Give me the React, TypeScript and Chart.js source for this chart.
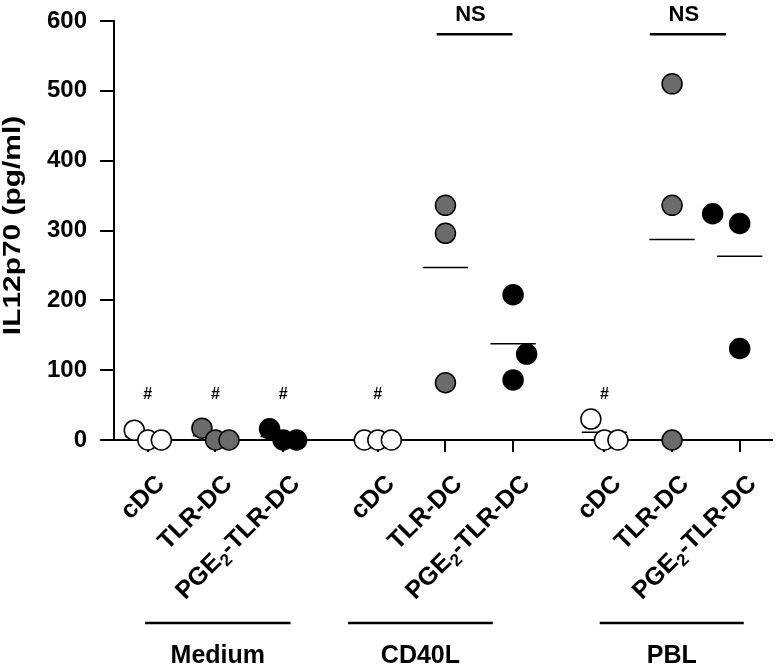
import React, { useEffect, useRef } from 'react';
import { Chart, registerables } from 'chart.js';

Chart.register(...registerables);

// ---- data ----
const groupNames = ['Medium', 'CD40L', 'PBL'];
const cellTypes = ['cDC', 'TLR-DC', 'PGE₂-TLR-DC'];
// x position of each category (group x cell type)
const catPositions = [0, 1, 2, 3.4, 4.4, 5.4, 6.75, 7.75, 8.75];

// three donors per category, one row per group
const cdcValues = [[14, 0, 0], [0, 0, 0], [30, 0, 0]];
const tlrValues = [[17, 0, 0], [336, 296, 82], [510, 336, 0]];
const pgeValues = [[16, 0, 0], [208, 123, 86], [324, 310, 131]];
// horizontal jitter of each dot (category units)
const cdcJitter = [[-0.2, 0, 0.2], [-0.2, 0, 0.2], [-0.2, 0, 0.2]];
const tlrJitter = [[-0.2, 0, 0.2], [0, 0, 0], [0, 0, 0]];
const pgeJitter = [[-0.2, 0, 0.2], [0, 0.2, 0], [-0.4, 0, 0]];
// mean bar per category
const meanValues = [5, 6, 5, 0, 247, 138, 11, 287, 263];

const yTicks = [0, 100, 200, 300, 400, 500, 600];
const yTitle = 'IL12p70 (pg/ml)';
const hashCategories = [0, 1, 2, 3, 6];
const hashValue = 65;
const nsBrackets = [[4.27, 5.39], [7.42, 8.55]];
const nsLineValue = 581;
const nsTextValue = 608;
const groupSpans = [[-0.04, 2.11], [2.96, 5.1], [6.68, 8.81]];

const FONT = '"Liberation Sans", Arial, Helvetica, sans-serif';
const GRAY = '#6b6b6b';

function buildPoints(values: number[][], jitter: number[][], typeIdx: number) {
  const pts: { x: number; y: number }[] = [];
  values.forEach((row, g) => {
    row.forEach((v, k) => {
      pts.push({ x: catPositions[g * 3 + typeIdx] + jitter[g][k], y: v });
    });
  });
  return pts;
}

function buildMeanLines() {
  const pts: { x: number; y: number | null }[] = [];
  meanValues.forEach((m, i) => {
    pts.push({ x: catPositions[i] - 0.335, y: m });
    pts.push({ x: catPositions[i] + 0.335, y: m });
    pts.push({ x: catPositions[i] + 0.4, y: null });
  });
  return pts;
}

function drawRotatedLabel(ctx: CanvasRenderingContext2D, text: string, ex: number, ey: number) {
  const main = `bold 25px ${FONT}`;
  const sub = `bold 17px ${FONT}`;
  const parts: { t: string; sub: boolean }[] = [];
  const idx = text.indexOf('₂');
  if (idx >= 0) {
    parts.push({ t: text.slice(0, idx), sub: false });
    parts.push({ t: '2', sub: true });
    parts.push({ t: text.slice(idx + 1), sub: false });
  } else {
    parts.push({ t: text, sub: false });
  }
  ctx.save();
  ctx.translate(ex, ey);
  ctx.rotate(-Math.PI / 4);
  ctx.textBaseline = 'middle';
  ctx.textAlign = 'left';
  let total = 0;
  const widths = parts.map((p) => {
    ctx.font = p.sub ? sub : main;
    const w = ctx.measureText(p.t).width;
    total += w;
    return w;
  });
  let x = -total;
  parts.forEach((p, i) => {
    ctx.font = p.sub ? sub : main;
    ctx.fillText(p.t, x, p.sub ? 8 : 0);
    x += widths[i];
  });
  ctx.restore();
}

const annotationPlugin = {
  id: 'annotations',
  afterDraw(chart: any) {
    const { ctx, chartArea } = chart;
    const x = chart.scales.x;
    const y = chart.scales.y;
    ctx.save();
    ctx.fillStyle = '#000';
    ctx.strokeStyle = '#000';

    // y axis title (glyphs drawn slightly elongated, as in the source figure)
    ctx.save();
    ctx.translate(14, (chartArea.top + chartArea.bottom) / 2 - 5);
    ctx.rotate(-Math.PI / 2);
    ctx.scale(1.3, 1);
    ctx.font = `bold 23px ${FONT}`;
    ctx.textAlign = 'center';
    ctx.textBaseline = 'middle';
    ctx.fillText(yTitle, 0, 0);
    ctx.restore();

    // # marks
    ctx.font = `bold 16px ${FONT}`;
    ctx.textAlign = 'center';
    ctx.textBaseline = 'middle';
    hashCategories.forEach((i) => {
      ctx.fillText('#', x.getPixelForValue(catPositions[i]), y.getPixelForValue(hashValue));
    });

    // NS brackets
    nsBrackets.forEach(([a, b]) => {
      const yl = y.getPixelForValue(nsLineValue);
      ctx.lineWidth = 2.5;
      ctx.beginPath();
      ctx.moveTo(x.getPixelForValue(a), yl);
      ctx.lineTo(x.getPixelForValue(b), yl);
      ctx.stroke();
      ctx.font = `bold 22px ${FONT}`;
      ctx.textAlign = 'center';
      ctx.textBaseline = 'middle';
      ctx.fillText('NS', x.getPixelForValue((a + b) / 2 - 0.06), y.getPixelForValue(nsTextValue));
    });

    // rotated category labels
    catPositions.forEach((p, i) => {
      drawRotatedLabel(ctx, cellTypes[i % 3], x.getPixelForValue(p) + 13, chartArea.bottom + 40);
    });

    // group underlines and names
    groupSpans.forEach(([a, b], g) => {
      const yl = chartArea.bottom + 183;
      ctx.lineWidth = 2.5;
      ctx.beginPath();
      ctx.moveTo(x.getPixelForValue(a), yl);
      ctx.lineTo(x.getPixelForValue(b), yl);
      ctx.stroke();
      ctx.font = `bold 25px ${FONT}`;
      ctx.textAlign = 'center';
      ctx.textBaseline = 'middle';
      ctx.fillText(groupNames[g], x.getPixelForValue((a + b) / 2), chartArea.bottom + 216);
    });
    ctx.restore();
  },
};

export default function App() {
  const ref = useRef<HTMLCanvasElement>(null);
  useEffect(() => {
    const canvas = ref.current;
    if (!canvas) return;
    const chart = new Chart(canvas, {
      type: 'scatter',
      data: {
        datasets: [
          {
            type: 'line',
            label: 'mean',
            data: buildMeanLines() as any,
            borderColor: '#000',
            borderWidth: 1.5,
            pointRadius: 0,
            spanGaps: false,
            clip: false,
            order: 2,
          } as any,
          {
            label: 'cDC',
            data: buildPoints(cdcValues, cdcJitter, 0),
            pointRadius: 10,
            pointBackgroundColor: '#fff',
            pointBorderColor: '#000',
            pointBorderWidth: 1.5,
            clip: false,
            order: 1,
          },
          {
            label: 'TLR-DC',
            data: buildPoints(tlrValues, tlrJitter, 1),
            pointRadius: 10,
            pointBackgroundColor: GRAY,
            pointBorderColor: '#000',
            pointBorderWidth: 1.5,
            clip: false,
            order: 1,
          },
          {
            label: 'PGE2-TLR-DC',
            data: buildPoints(pgeValues, pgeJitter, 2),
            pointRadius: 10,
            pointBackgroundColor: '#000',
            pointBorderColor: '#000',
            pointBorderWidth: 1.5,
            clip: false,
            order: 1,
          },
        ],
      },
      options: {
        animation: false,
        responsive: false,
        devicePixelRatio: 1,
        events: [],
        layout: { padding: { left: 0, top: 21, right: 3, bottom: 0 } },
        plugins: { legend: { display: false }, tooltip: { enabled: false } },
        scales: {
          x: {
            type: 'linear',
            min: -0.5,
            max: 9.22,
            afterBuildTicks: (s: any) => {
              s.ticks = catPositions.map((v) => ({ value: v }));
            },
            afterFit: (s: any) => {
              s.height = 230;
              s.paddingLeft = 0;
              s.paddingRight = 0;
            },
            ticks: { display: false },
            grid: { drawOnChartArea: false, drawTicks: true, tickLength: 12, color: '#000', lineWidth: 2 },
            border: { display: true, color: '#000', width: 2 },
          },
          y: {
            type: 'linear',
            min: 0,
            max: 600,
            afterBuildTicks: (s: any) => {
              s.ticks = yTicks.map((v) => ({ value: v }));
            },
            afterFit: (s: any) => {
              s.width = 114;
              s.paddingTop = 0;
              s.paddingBottom = 0;
            },
            ticks: { color: '#000', padding: 13, font: { family: FONT, size: 24, weight: 'bold' } },
            grid: { drawOnChartArea: false, drawTicks: true, tickLength: 14, color: '#000', lineWidth: 2 },
            border: { display: true, color: '#000', width: 2 },
            title: { display: false },
          },
        },
      } as any,
      plugins: [annotationPlugin],
    });
    return () => chart.destroy();
  }, []);
  return (
    <div style={{ position: 'absolute', left: 0, top: 0, width: 783, height: 670, background: '#fff' }}>
      <canvas ref={ref} width={783} height={670} style={{ display: 'block' }} />
    </div>
  );
}
